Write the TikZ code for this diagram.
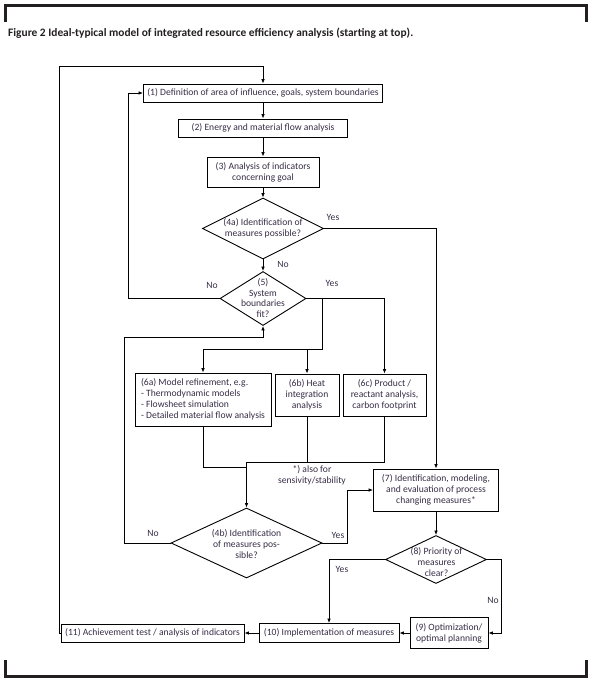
\documentclass[tikz,border=0pt]{standalone}
\usepackage{fontspec}
\setmainfont{Carlito}
\usetikzlibrary{arrows.meta,shapes.geometric}
\definecolor{txtc}{RGB}{55,45,70}
\definecolor{framec}{RGB}{35,31,32}
\newcommand\nodefont{\fontsize{9.6}{11}\selectfont}
\begin{document}
\begin{tikzpicture}[x=1pt,y=-1pt,
  box/.style={draw, line width=0.9pt, inner sep=0pt, align=center, text=txtc, font=\nodefont},
  dia/.style={draw, diamond, line width=0.9pt, inner sep=0pt},
  dtext/.style={align=center, text=txtc, font=\nodefont, inner sep=0pt},
  lbl/.style={text=txtc, font=\nodefont, inner sep=0pt},
  line/.style={line width=0.8pt},
  arr/.style={line width=0.8pt, -{Latex[length=4.5pt,width=3.6pt]}}]
\useasboundingbox (0,0) rectangle (594,682);
% frame
\fill[framec] (4,4) rectangle (588,7);
\fill[framec] (4,4) rectangle (7,22);
\fill[framec] (585,4) rectangle (588,22);
\fill[framec] (4,675) rectangle (588,678);
\fill[framec] (4,660) rectangle (7,678);
\fill[framec] (585,660) rectangle (588,678);
\node[anchor=base west, inner sep=0pt, font=\fontsize{11.4}{13}\selectfont\bfseries, text=framec] (cap) at (8,37) {Figure 2 Ideal-typical model of integrated resource efficiency analysis (starting at top).};
% nodes
\node[box, minimum width=239, minimum height=18] (n1) at (263,93) {(1) Definition of area of influence, goals, system boundaries};
\node[box, minimum width=169, minimum height=18] (n2) at (263,128) {(2) Energy and material flow analysis};
\node[box, minimum width=112, minimum height=30] (n3) at (263,172) {(3) Analysis of indicators\\concerning goal};
\node[dia, minimum width=121, minimum height=61] (d4a) at (263,228.5) {};
\node[dtext] (t4a) at (263,228.5) {(4a) Identification of\\measures possible?};
\node[dia, minimum width=86, minimum height=54] (d5) at (263,298.5) {};
\node[dtext, font=\fontsize{9.6}{10.4}\selectfont] (t5) at (263,298) {(5)\\System\\boundaries\\fit?};
\node[box, minimum width=136, minimum height=53, align=left] (n6a) at (203,399.5) {(6a) Model refinement, e.g.\\- Thermodynamic models\\- Flowsheet simulation\\- Detailed material flow analysis};
\node[box, minimum width=64, minimum height=42] (n6b) at (307,395) {(6b) Heat\\integration\\analysis};
\node[box, minimum width=83, minimum height=42] (n6c) at (384.5,395) {(6c) Product /\\reactant analysis,\\carbon footprint};
\node[box, minimum width=125, minimum height=42] (n7) at (436,490) {(7) Identification, modeling,\\and evaluation of process\\changing measures*};
\node[dia, minimum width=151, minimum height=70] (d4b) at (246.5,543) {};
\node[dtext] (t4b) at (246.5,544.5) {(4b) Identification\\of measures pos-\\sible?};
\node[dia, minimum width=101, minimum height=48] (d8) at (436,559.5) {};
\node[dtext, font=\fontsize{9.6}{10.6}\selectfont] (t8) at (436.5,562) {(8) Priority of\\measures\\clear?};
\node[box, minimum width=78, minimum height=31] (n9) at (449,633) {(9) Optimization/\\optimal planning};
\node[box, minimum width=140, minimum height=19] (n10) at (329,633) {(10) Implementation of measures};
\node[box, minimum width=183, minimum height=18] (n11) at (152.5,633) {(11) Achievement test / analysis of indicators};
% labels
\node[lbl] (l1) at (333,217) {Yes};
\node[lbl] (l2) at (283,264) {No};
\node[lbl] (l3) at (212,285) {No};
\node[lbl] (l4) at (332,283) {Yes};
\node[dtext] (note) at (312,475) {*) also for\\sensivity/stability};
\node[lbl] (l5) at (153,533) {No};
\node[lbl] (l6) at (338,535) {Yes};
\node[lbl] (l7) at (342,569) {Yes};
\node[lbl] (l8) at (493,600) {No};
% connectors
\draw[arr] (n11.west) -- (59,633) -- (59,66) -| (n1.north);
\draw[arr] (n1) -- (n2);
\draw[arr] (n2) -- (n3);
\draw[arr] (n3) -- (d4a.north);
\draw[arr] (d4a.south) -- (d5.north);
\draw[arr] (d4a.east) -| (n7.north);
\draw[arr] (d5.west) -| (128,93) -- (n1.west);
\draw[arr] (d5.east) -| (n6c.north);
\draw[arr] (322,298.5) -- (322,349) -| (n6a.north);
\draw[arr] (n6b.north |- 0,349) -- (n6b.north);
\draw[line] (n6a.south) |- (246.5,467);
\draw[line] (n6c.south) |- (246.5,462);
\draw[line] (n6b.south) -- (n6b.south |- 0,462);
\draw[arr] (d4b.north |- 0,462) -- (d4b.north);
\draw[arr] (d4b.west) -| (124,337) -| (d5.south);
\draw[arr] (d4b.east) -| (347,490) -- (n7.west);
\draw[arr] (n7.south) -- (d8.north);
\draw[arr] (d8.west) -| (n10.north);
\draw[arr] (d8.east) -| (501,633) -- (n9.east);
\draw[arr] (n9.west) -- (n10.east);
\draw[arr] (n10.west) -- (n11.east);
\end{tikzpicture}
\end{document}
